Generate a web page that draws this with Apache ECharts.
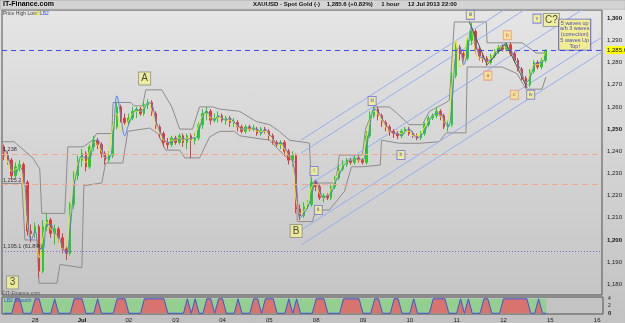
<!DOCTYPE html>
<html><head><meta charset="utf-8">
<script src="https://cdn.jsdelivr.net/npm/echarts@6/dist/echarts.min.js"></script>
<style>html,body{margin:0;padding:0}#c{width:625px;height:323px;background:linear-gradient(#e6e6e6,#c2c2c2)}</style>
</head><body><div id="c"></div>
<script>
// ---------- DATA ----------
const days = ['27','28','Jul','02','03','04','05','08','09','10','11','12','15','16'];
const firstDaySlot = 4;   // first 2-hour slot shown for the first day
const lastDaySlots = 2;   // slots shown for the last (future) day
// 2-hour candles: [open, close, low, high]
const ohlc = [
[1242,1238,1236,1243],[1238,1236,1234,1240],[1236,1229,1227,1237],[1229,1233,1228,1235],[1233,1234,1231,1236],
[1234,1226,1225,1235],[1226,1204,1202,1227],[1204,1203,1199,1207],[1203,1206,1201,1208],[1206,1186,1183,1207],
[1186,1206,1185,1209],[1206,1209,1204,1212],[1209,1203,1201,1210],[1203,1205,1198,1207],[1205,1201,1199,1206],
[1201,1196,1194,1203],[1196,1194,1191,1198],[1194,1216,1193,1217],[1216,1229,1214,1231],[1229,1236,1227,1238],
[1236,1239,1233,1241],[1239,1233,1231,1240],[1233,1242,1232,1243],[1242,1245,1240,1247],[1245,1243,1241,1246],
[1243,1239,1237,1244],[1239,1236,1234,1240],[1236,1238,1235,1240],[1238,1251,1237,1253],[1251,1260,1250,1262],
[1260,1255,1253,1261],[1255,1253,1252,1257],[1253,1255,1252,1257],[1255,1258,1254,1260],[1258,1259,1255,1260],
[1259,1257,1256,1260],[1257,1261,1256,1262],[1261,1262,1259,1263.5],[1262,1257,1256,1263],[1257,1251,1250,1258],
[1251,1248,1246,1252],[1248,1244,1242,1249],[1244,1243,1241,1246],[1243,1246,1242,1247],[1246,1244,1243,1247],
[1244,1247,1243,1248],[1247,1244,1242,1248],[1244,1247,1241,1248],[1247,1245,1237,1248],[1245,1246,1243,1248],
[1246,1252,1245,1253],[1252,1257,1250,1259],[1257,1258,1254,1260],[1258,1254,1252,1259],[1254,1255,1253,1257],
[1255,1256,1253,1258],[1256,1254,1253,1257],[1254,1255,1252,1256],[1255,1253,1251,1256],[1253,1253.5,1251,1255],
[1253,1251,1249,1254],[1251,1249,1248,1252],[1249,1251,1248,1252],[1251,1250,1249,1252],[1250,1250.5,1249,1252],
[1250,1248,1247,1251],[1248,1250,1247,1251],[1250,1249,1248,1251],[1249,1247,1245,1250],[1247,1244,1243,1248],
[1244,1243,1242,1245],[1243,1244,1241,1245],[1244,1240,1238,1245],[1240,1236,1234,1241],[1236,1238,1233,1240],
[1238,1214,1212,1239],[1214,1211,1209,1216],[1211,1215,1210,1217],[1215,1216,1214,1218],[1216,1226,1215,1228],
[1226,1224,1222,1227],[1224,1219,1218,1225],[1219,1220,1217,1221],[1220,1219,1218,1221],[1219,1224,1218,1225],
[1224,1228,1223,1229],[1228,1232,1227,1234],[1232,1234,1231,1236],[1234,1236,1233,1237],[1236,1235,1234,1237],
[1235,1237,1234,1238],[1237,1236,1235,1238],[1236,1235,1234,1237],[1235,1247,1234,1249],[1247,1256,1246,1258],
[1256,1259,1255,1260],[1259,1256,1254,1260],[1256,1253,1251,1257],[1253,1251,1249,1254],[1251,1249,1247,1252],
[1249,1248,1246,1250],[1248,1247,1245.5,1249],[1247,1249,1246,1250],[1249,1250,1248,1251],[1250,1248,1247,1251],
[1248,1247,1246,1249],[1247,1246,1245,1248],[1246,1248,1245,1249],[1248,1252,1247,1253],[1252,1255,1251,1256],
[1255,1256,1254,1257],[1256,1258,1255,1260],[1258,1256,1254,1259],[1256,1251,1250,1257],[1251,1252,1249,1254],
[1252,1274,1251,1276],[1274,1287,1273,1289],[1287,1284,1281,1288],[1284,1282,1280,1285],[1282,1290,1281,1291],
[1290,1294,1288,1298],[1294,1286,1284,1295],[1286,1283,1281,1287],[1283,1282,1280,1284],[1282,1280,1278.5,1283],
[1280,1283,1279,1284],[1283,1285,1282,1286],[1285,1287,1284,1288],[1287,1286,1285,1288],[1286,1288,1285,1289],
[1288,1284,1283,1289],[1284,1281,1280,1285],[1281,1277,1276,1282],[1277,1273,1272,1278],[1273,1270,1268.5,1274],
[1270,1276,1269,1277],[1276,1280,1275,1281],[1280,1278,1277,1281],[1278,1281,1277,1282],[1281,1285.6,1280,1286]
];
// LB1 (yellow) and LB2 (blue) oscillating lines, one value per bar
const lb1 = [
1240,1235,1231,1232,1233,1224,1207,1202,1203,1192, 1201,1208,1205,1203,1200,1196,1197,1212,1227,1235,
1237,1235,1240,1244,1243,1240,1237,1240,1252,1257, 1249,1251,1254,1257,1258,1258,1260,1262,1258,1252,
1248,1245,1244,1245,1245,1246,1245,1246,1245,1247, 1252,1256,1257,1255,1255,1255,1255,1254,1254,1253,
1251,1250,1250,1250,1250,1249,1249,1249,1247,1245, 1243,1243,1241,1238,1236,1218,1212,1213,1217,1224,
1225,1221,1219,1220,1223,1227,1231,1234,1235,1236, 1236,1236,1237,1246,1254,1258,1257,1254,1251,1249,
1248,1248,1248,1249,1249,1247,1247,1248,1251,1254, 1256,1257,1256,1253,1254,1270,1290,1278,1280,1292,
1295,1285,1282,1282,1280,1282,1285,1287,1287,1287, 1284,1281,1277,1274,1271,1275,1279,1279,1281,1285];
const lb2 = [
1241,1238,1232,1230,1233,1230,1212,1200,1204,1196, 1196,1207,1207,1203,1202,1197,1194,1205,1224,1233,
1238,1237,1237,1244,1245,1242,1237,1237,1246,1265, 1256,1247,1252,1256,1259,1258,1259,1262,1261,1254,
1249,1246,1244,1244,1246,1245,1246,1245,1246,1246, 1249,1255,1258,1256,1254,1256,1255,1254,1255,1253,
1252,1250,1250,1251,1250,1250,1248,1250,1248,1246, 1243,1244,1242,1239,1236,1226,1210,1212,1215,1220,
1227,1223,1219,1220,1221,1226,1229,1233,1235,1236, 1236,1237,1236,1241,1252,1259,1258,1255,1252,1250,
1248,1248,1247,1249,1250,1248,1246,1247,1249,1253, 1256,1257,1257,1254,1251,1262,1284,1287,1279,1285,
1296,1290,1283,1282,1281,1281,1284,1286,1288,1287, 1286,1282,1279,1275,1271,1273,1278,1280,1280,1283];
// Price High Low envelope vertices: [bar index, price]
const upperBand = [[-0.5,1244.3],[2.6,1244.3],[7.4,1237],[9.2,1232],[9.7,1212],[15.6,1212],[16.4,1242],[20.3,1242],
[22.8,1245],[23.8,1248],[27.7,1248],[28.0,1262],[32.6,1262],[33.3,1260.5],[35.6,1260.5],[36.4,1267.7],[40.5,1267.7],
[43.1,1260],[45.1,1250],[48.4,1250],[50.2,1260],[53.6,1260],[55.4,1259],[60.5,1258],[64.8,1253.4],[68.2,1252],
[70.7,1249],[73.3,1245],[78.4,1243.7],[78.9,1225.7],[85.1,1225.7],[86.1,1238.3],[92.0,1238.3],[92.8,1250],
[95.1,1260],[98.9,1260],[101.0,1257],[104.0,1252],[107.4,1252],[109.2,1258],[113.5,1262],[114.3,1263],
[115.6,1298.3],[123.8,1298.3],[124.0,1288.9],[133.0,1288.9],[136.6,1284.3],[139.1,1284.3]];
const lowerBand = [[-0.5,1225.5],[4.6,1225.5],[5.4,1200],[8.5,1200],[9.0,1180.5],[13.6,1180.5],[14.4,1189],
[20.0,1187.5],[20.5,1224.5],[25.1,1225.7],[26.1,1234.7],[30.5,1234.7],[31.8,1249],[37.4,1250.5],[39.5,1248],
[41.5,1240.5],[45.1,1240.5],[46.4,1237],[50.2,1237],[52.8,1246.5],[55.4,1249],[59.2,1249],[60.5,1247],
[64.3,1246],[68.2,1245],[72.0,1238],[74.8,1235],[75.3,1208.3],[79.2,1208.3],[80.0,1213.5],[83.5,1213.5],
[87.4,1222],[89.2,1233],[92.0,1233],[96.6,1233.8],[96.9,1245],[101.5,1243.6],[106.6,1243.6],[111.7,1244.3],
[113.5,1248.3],[118.6,1248.3],[118.9,1278],[124.5,1278],[127.9,1278],[131.7,1275],[134.0,1268],[138.1,1268],[139.1,1273.5]];
// Parallel channel lines: start/end [bar index, price]
const channelLines = [
  [[76.3,1245.1],[153.5,1332.1]],
  [[76.3,1239.2],[153.5,1326.2]],
  [[76.3,1222.6],[153.5,1309.6]],
  [[76.3,1204.5],[153.5,1291.5]],
  [[76.3,1197.8],[153.5,1284.8]]
];
// ABC zigzag
const zigzag = [[119.4,1298.5],[124.0,1279],[128.8,1288.7],[134.3,1268.5]];
// Horizontal levels
const levelValues = [1285.6, 1238.8, 1225.2, 1195.1];
const levelLabels = ['1,285.6', '1,238', '1,225.2', '1,195.1 (61.8%)'];
// Wave annotations
const waveText = ['3','A','B','i','ii','iii','b','iii','a','b','c','iv','v','C?'];
const waveIdx  = [2.2,36.1,75.0,79.6,80.7,94.5,101.9,119.7,124.2,129.2,131.0,135.2,136.8,140.5];
const waveVal  = [1180.8,1272.8,1204.1,1231.1,1213.5,1262.7,1238.3,1301.5,1274.1,1292.3,1265.5,1265.5,1299.8,1299.2];
const waveDegree = ['major','major','major','minor','minor','minor','minor','minor','corr','corr','corr','minor','minor','major'];
const noteText = '5 waves up\na/b 3 waves\n(correction)\n5 waves Up\nTop!';
const noteAt = [146.5, 1292.6];
// Lower indicator (0 / 4 state per bar)
const indicator = [
0,0,0,4,4,0,0,0,4,4, 0,0,0,4,0,0,0,0,4,4, 4,0,0,0,4,0,0,0,0,4, 4,4,0,0,0,0,4,4,4,4,
4,4,0,0,0,0,0,4,0,4, 0,0,4,4,0,4,4,0,0,0, 4,0,0,0,4,4,0,4,4,4, 0,0,0,4,0,4,0,0,0,0,
4,4,4,0,0,0,0,4,4,4, 4,4,0,0,0,4,4,0,0,0, 4,4,0,0,0,4,0,0,0,0, 4,4,4,4,0,0,0,4,0,4,
0,0,0,4,4,0,0,0,4,4, 4,4,4,4,4,0,0,4,0,0];
const priceTicks = [1180,1190,1200,1210,1220,1230,1240,1250,1260,1270,1280,1290,1300];
const indTicks = [0,2,4];

// ---------- BUILD ----------
const categories = [];
days.forEach((d, di) => {
  const s0 = di === 0 ? firstDaySlot : 0;
  const s1 = di === days.length - 1 ? lastDaySlots : 12;
  for (let s = s0; s < s1; s++) categories.push(d + ' ' + String(s * 2).padStart(2, '0'));
});
const N = categories.length;
const fmtNum = v => v.toLocaleString('en-US');
const FONT = 'Liberation Sans';

const degreeStyle = {
  major: {w: 12, h: 13, fill: '#f2f08e', border: '#8a8a8a', text: '#222', size: 10},
  minor: {w: 8, h: 9, fill: '#f4f08a', border: '#6f6fe8', text: '#2a2ab0', size: 5},
  corr:  {w: 8, h: 9, fill: '#f7e38a', border: '#f0907a', text: '#e03020', size: 5}
};
const waveData = waveText.map((t, i) => {
  const st = degreeStyle[waveDegree[i]];
  return {
    value: [waveIdx[i], waveVal[i]],
    symbolSize: [t === 'C?' ? 16 : st.w, st.h],
    itemStyle: {color: st.fill, borderColor: st.border, borderWidth: 1},
    label: {show: true, position: 'inside', formatter: t, color: st.text, fontSize: st.size, fontFamily: FONT}
  };
});
waveData.push({
  value: noteAt, symbolSize: [32, 31],
  itemStyle: {color: '#f6f07e', borderColor: '#3a3ae0', borderWidth: 1},
  label: {show: true, position: 'inside', formatter: noteText, color: '#1a1ad0', fontSize: 5.5, lineHeight: 5.8, fontFamily: FONT, align: 'center'}
});

const levelStyles = [
  {color: '#3a4ef0', type: [5, 4]},
  {color: '#f2a68a', type: [6, 4]},
  {color: '#f2a68a', type: [6, 4]},
  {color: '#8a5cc8', type: [1, 2]}
];
const markLineData = levelValues.map((v, i) => ({
  yAxis: v,
  lineStyle: Object.assign({width: 1}, levelStyles[i]),
  label: i === 0
    ? {show: true, position: 'end', formatter: levelLabels[i], backgroundColor: '#ffff00', color: '#000', fontSize: 6, padding: [1, 1], distance: 4, fontFamily: FONT}
    : {show: true, position: 'insideStartTop', formatter: levelLabels[i], color: '#333', fontSize: 5.5, distance: 1, fontFamily: FONT}
}));

const series = [
  {
    type: 'candlestick', xAxisIndex: 0, yAxisIndex: 0, data: ohlc, barWidth: 2, z: 3,
    itemStyle: {color: '#22d022', color0: '#e03a3a', borderColor: '#22d022', borderColor0: '#e03a3a', borderWidth: 1},
    markLine: {symbol: ['none', 'none'], silent: true, animation: false, data: markLineData}
  },
  {type: 'line', xAxisIndex: 0, yAxisIndex: 0, data: lb1, symbol: 'none', smooth: 0.4, lineStyle: {color: '#f2e21a', width: 1}, z: 4},
  {type: 'line', xAxisIndex: 0, yAxisIndex: 0, data: lb2, symbol: 'none', smooth: 0.4, lineStyle: {color: '#4c82f0', width: 1}, z: 4},
  {type: 'line', xAxisIndex: 2, yAxisIndex: 0, data: upperBand, symbol: 'none', lineStyle: {color: '#8c8c8c', width: 1}, z: 2},
  {type: 'line', xAxisIndex: 2, yAxisIndex: 0, data: lowerBand, symbol: 'none', lineStyle: {color: '#8c8c8c', width: 1}, z: 2}
];
channelLines.forEach(seg => series.push({
  type: 'line', xAxisIndex: 2, yAxisIndex: 0, data: seg, symbol: 'none', clip: true,
  lineStyle: {color: '#95aef2', width: 1}, z: 2
}));
series.push({type: 'line', xAxisIndex: 2, yAxisIndex: 0, data: zigzag, symbol: 'none', lineStyle: {color: '#555', width: 1}, z: 5});
series.push({type: 'scatter', xAxisIndex: 2, yAxisIndex: 0, symbol: 'rect', data: waveData, z: 6, clip: false});
// indicator pane
series.push({
  type: 'line', xAxisIndex: 1, yAxisIndex: 1, data: [], z: 1,
  markArea: {silent: true, itemStyle: {color: '#93cf8e'}, data: [[{xAxis: categories[0], yAxis: 0}, {xAxis: categories[ohlc.length - 1], yAxis: 4}]]}
});
series.push({
  type: 'line', xAxisIndex: 1, yAxisIndex: 1, data: indicator, symbol: 'none', z: 2,
  lineStyle: {color: '#3a55e0', width: 1}, areaStyle: {color: '#d9736e', opacity: 1}
});

const option = {
  animation: false,
  backgroundColor: 'transparent',
  textStyle: {fontFamily: FONT},
  grid: [
    {left: 2, top: 10, width: 601, height: 285, show: true, borderColor: '#505050', borderWidth: 1, backgroundColor: 'transparent'},
    {left: 2, top: 297, width: 601, height: 18, show: true, borderColor: '#505050', borderWidth: 1, backgroundColor: '#c3c3c3'}
  ],
  xAxis: [
    {type: 'category', gridIndex: 0, data: categories, boundaryGap: true, axisLine: {show: false}, axisTick: {show: false}, axisLabel: {show: false}, splitLine: {show: false}},
    {type: 'category', gridIndex: 1, data: categories, boundaryGap: true, axisLine: {show: false}, axisTick: {show: false}, splitLine: {show: false},
      axisLabel: {show: true, interval: (i, v) => v.endsWith(' 00') && i > 0, formatter: v => { const d = v.split(' ')[0]; return d === 'Jul' ? '{b|Jul}' : d; },
        fontSize: 6, margin: 3, color: '#222', fontFamily: FONT, rich: {b: {fontWeight: 'bold', fontSize: 6, fontFamily: FONT, color: '#111'}}}},
    {type: 'value', gridIndex: 0, min: -0.5, max: N - 0.5, show: false}
  ],
  yAxis: [
    {type: 'value', gridIndex: 0, position: 'right', min: 1175.2, max: 1303.7, axisLine: {show: false}, axisTick: {show: false}, splitLine: {show: false},
      axisLabel: {customValues: priceTicks, fontSize: 6, margin: 5, color: '#222', fontFamily: FONT,
        formatter: v => v % 50 === 0 ? '{b|' + fmtNum(v) + '}' : fmtNum(v), rich: {b: {fontWeight: 'bold', fontSize: 6, fontFamily: FONT, color: '#111'}}}},
    {type: 'value', gridIndex: 1, position: 'right', min: -0.2, max: 4.5, axisLine: {show: false}, axisTick: {show: false}, splitLine: {show: false},
      axisLabel: {customValues: indTicks, fontSize: 5, margin: 5, color: '#222', fontFamily: FONT,
        formatter: v => v === 0 ? '{b|0}' : String(v), rich: {b: {fontWeight: 'bold', fontSize: 6, fontFamily: FONT}}}}
  ],
  series: series,
  graphic: [
    {type: 'rect', left: 0, top: 0, shape: {width: 625, height: 9}, style: {fill: '#d4d4d4', stroke: '#9a9a9a', lineWidth: 0.5}, z: 10},
    {type: 'text', left: 3, top: 1, style: {text: 'IT-Finance.com', font: 'bold 7px ' + FONT, fill: '#000'}, z: 11},
    {type: 'text', left: 253, top: 1.5, style: {text: 'XAUUSD - Spot Gold (-)    1,285.6 (+0.82%)     1 hour     12 Jul 2013 22:00', font: 'bold 6px ' + FONT, fill: '#111'}, z: 11},
    {type: 'text', left: 3, top: 11, style: {text: 'Price High Low', font: '5px ' + FONT, fill: '#444'}, z: 11},
    {type: 'text', left: 34, top: 11, style: {text: 'LB1', font: '5px ' + FONT, fill: '#e8d800'}, z: 11},
    {type: 'text', left: 40, top: 11, style: {text: 'LB2', font: '5px ' + FONT, fill: '#3a55e0'}, z: 11},
    {type: 'text', left: 2, top: 291, style: {text: '©IT-Finance.com', font: '5px ' + FONT, fill: '#555'}, z: 11},
    {type: 'text', left: 4, top: 298, style: {text: 'LB2 Smooth', font: '5px ' + FONT, fill: '#3a55e0'}, z: 11}
  ]
};
const chart = echarts.init(document.getElementById('c'), null, {renderer: 'canvas'});
chart.setOption(option);
</script></body></html>
